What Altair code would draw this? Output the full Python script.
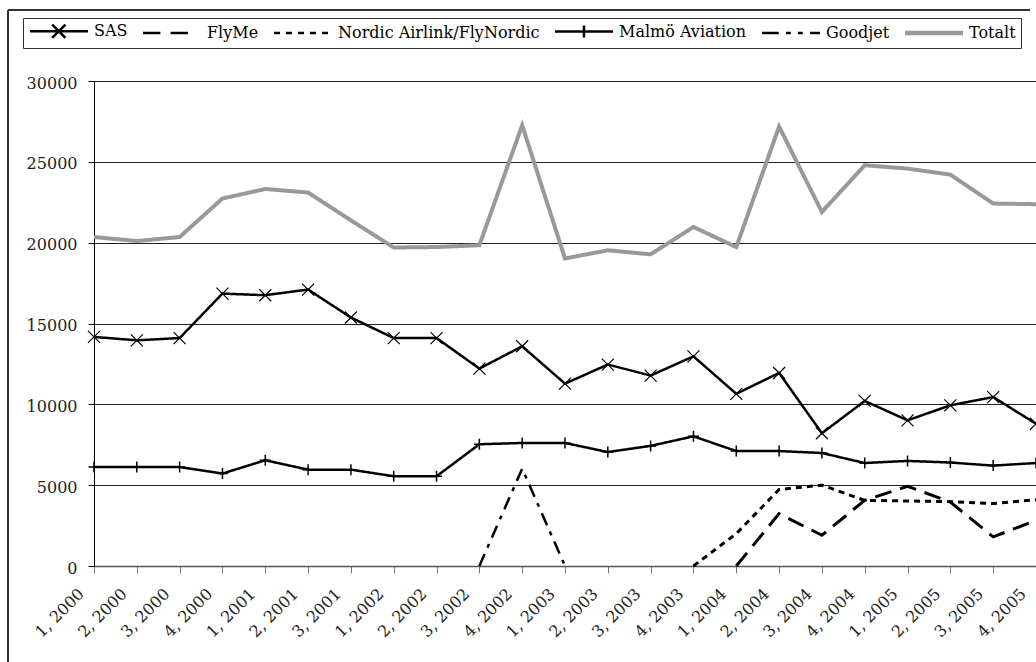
import altair as alt
import pandas as pd

# ---- data ----
categories = ["1, 2000", "2, 2000", "3, 2000", "4, 2000", "1, 2001", "2, 2001", "3, 2001",
              "1, 2002", "2, 2002", "3, 2002", "4, 2002", "1, 2003", "2, 2003", "3, 2003",
              "4, 2003", "1, 2004", "2, 2004", "3, 2004", "4, 2004", "1, 2005", "2, 2005",
              "3, 2005", "4, 2005"]

sas = [14170, 13960, 14100, 16850, 16750, 17100, 15370, 14100, 14100, 12210, 13590, 11280,
       12460, 11780, 12970, 10650, 11940, 8210, 10210, 9010, 9940, 10450, 8800]
flyme = [None] * 15 + [0, 3240, 1900, 4060, 4930, 3960, 1800, 2830]
nordic = [None] * 14 + [0, 2000, 4730, 5000, 4060, 4020, 3980, 3860, 4100]
malmo = [6120, 6120, 6120, 5720, 6540, 5960, 5960, 5550, 5550, 7530, 7610, 7610, 7050, 7430,
         8020, 7110, 7110, 6990, 6370, 6500, 6400, 6210, 6370]
goodjet = [None] * 9 + [0, 6020, 0] + [None] * 11
totalt = [20350, 20100, 20350, 22730, 23320, 23100, 21380, 19700, 19730, 19840, 27260, 19020,
          19530, 19280, 20970, 19730, 27180, 21900, 24790, 24580, 24210, 22420, 22380]

series_names = ["SAS", "FlyMe", "Nordic Airlink/FlyNordic", "Malmö Aviation", "Goodjet", "Totalt"]
series_values = [sas, flyme, nordic, malmo, goodjet, totalt]
y_ticks = [0, 5000, 10000, 15000, 20000, 25000, 30000]

# ---- styles ----
line_colors = ["black", "black", "black", "black", "black", "#999999"]
line_widths = [2.5, 3, 3, 2.5, 2.5, 4]
line_dashes = [[1, 0], [17, 9], [6, 5], [1, 0], [13, 7, 4, 7], [1, 0]]
legend_paths = [
    "M-1,0H8.67M2.7,-1.1L4.9,1.1M2.7,1.1L4.9,-1.1",
    "M-1,0H1.9M3.6,0H6.5",
    "M-1,0H0M1,0H2M3,0H4M5,0H6M7,0H8",
    "M-1,0H8.67M3.83,-1V1",
    "M-1,0H1.8M3,0H3.8M5,0H5.8M7,0H8.67",
    "M-1,-0.15H8.67M-1,0.15H8.67",
]
FONT = "DejaVu Serif"

rows = []
for name, vals in zip(series_names, series_values):
    for cat, v in zip(categories, vals):
        if v is not None:
            rows.append({"series": name, "quarter": cat, "value": v})
df = pd.DataFrame(rows)

x_enc = alt.X("quarter:O", sort=categories,
              scale=alt.Scale(type="point", padding=0),
              axis=alt.Axis(title=None, labelAngle=-45, labelAlign="right",
                            labelBaseline="middle", labelFont=FONT, labelFontSize=16,
                            labelColor="#222", labelOffset=-13, labelPadding=18,
                            tickSize=7, tickColor="#777", domainColor="#555",
                            domainWidth=1.5, grid=False, labelOverlap=False))
y_enc = alt.Y("value:Q", scale=alt.Scale(domain=[0, 30000], nice=False),
              axis=alt.Axis(title=None, values=y_ticks, format="d", labelFont=FONT,
                            labelFontSize=16, labelColor="#222", labelPadding=11, tickSize=6,
                            tickColor="black", domainColor="black", labelOffset=2,
                            grid=True, gridColor="#222", gridWidth=1))

legend_props = dict(title=None, labelFont=FONT, labelFontSize=16, labelColor="black")

layers = []

# invisible layer that only drives the legend
legend_driver = alt.Chart(df).mark_point(size=0, filled=False, strokeWidth=2.5, opacity=1).encode(
    x=x_enc, y=y_enc,
    shape=alt.Shape("series:N", scale=alt.Scale(domain=series_names, range=legend_paths),
                    legend=alt.Legend(**legend_props)),
    color=alt.Color("series:N", scale=alt.Scale(domain=series_names, range=line_colors),
                    legend=alt.Legend(**legend_props)),
)
layers.append(legend_driver)

for name, col, w, dash in zip(series_names, line_colors, line_widths, line_dashes):
    layers.append(
        alt.Chart(df[df.series == name]).mark_line(
            color=col, strokeWidth=w, strokeDash=dash, opacity=1
        ).encode(x=x_enc, y=y_enc)
    )

layers.append(
    alt.Chart(df[df.series == "SAS"]).mark_point(
        shape="M-1,-1L1,1M-1,1L1,-1", size=144, filled=False, color="black",
        strokeWidth=1.2, opacity=1
    ).encode(x=x_enc, y=y_enc)
)
layers.append(
    alt.Chart(df[df.series == "Malmö Aviation"]).mark_point(
        shape="M0,-1V1M-1,0H1", size=121, filled=False, color="black",
        strokeWidth=1.5, opacity=1
    ).encode(x=x_enc, y=y_enc)
)

# outer chart frame (decoration)
layers.append(alt.Chart(df).mark_rule(color="#333", strokeWidth=1.5).encode(
    x=alt.value(-86), x2=alt.value(936), y=alt.value(-71)))
layers.append(alt.Chart(df).mark_rule(color="#333", strokeWidth=1.5).encode(
    x=alt.value(-86), y=alt.value(-71), y2=alt.value(600)))

chart = alt.layer(*layers).properties(
    width=942, height=485,
    autosize=alt.AutoSizeParams(type="none"),
    padding={"left": 94, "top": 81, "right": 0, "bottom": 96},
    background="white",
).configure(font=FONT).configure_view(stroke=None).configure_legend(
    orient="none", legendX=-71, legendY=-63, direction="horizontal", columns=6,
    symbolSize=144, symbolStrokeWidth=2.5, labelFont=FONT, labelFontSize=16,
    labelColor="black", labelOffset=50, columnPadding=10, padding=5,
    strokeColor="#333", fillColor="white", labelLimit=0, symbolFillColor="transparent",
)

chart.save("out.html", embed_options={"renderer": "svg", "actions": False})
